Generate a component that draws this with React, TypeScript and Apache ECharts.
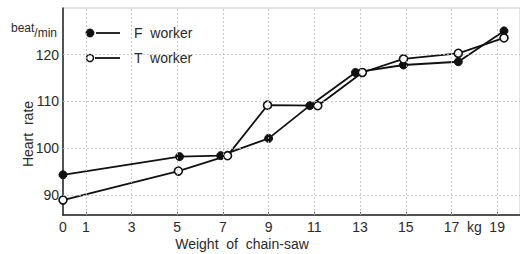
import React, { useEffect, useRef } from "react";
import * as echarts from "echarts";

const fWorkerX = [0, 5.1, 6.9, 9.0, 10.8, 12.8, 14.9, 17.3, 19.3];
const fWorkerY = [94.3, 98.2, 98.4, 102.1, 109.1, 116.2, 117.8, 118.5, 125.1];
const tWorkerX = [0, 5.05, 7.2, 8.95, 11.15, 13.1, 14.9, 17.3, 19.3];
const tWorkerY = [88.9, 95.1, 98.4, 109.2, 109.1, 116.2, 119.1, 120.3, 123.6];
const xTickLabels = [0, 1, 3, 5, 7, 9, 11, 13, 15, 17, 18, 19];
const xGridValues = [1, 3, 5, 7, 9, 11, 13, 15, 17, 19];
const yTickLabels = [90, 100, 110, 120];
const seriesNames = ["F worker", "T worker"];

const FONT = "'Liberation Sans', 'DejaVu Sans', sans-serif";
const TXT = "#2a2a2a";

export default function App() {
  const ref = useRef<HTMLDivElement>(null);
  useEffect(() => {
    if (!ref.current) return;
    const chart = echarts.init(ref.current, null, { renderer: "svg" });
    const zip = (xs: number[], ys: number[]) => xs.map((x, i) => [x, ys[i]]);
    const gridLine = { color: "#bdbdbd", width: 0.8, type: [2, 2] as any };
    chart.setOption({
      animation: false,
      backgroundColor: "#fff",
      grid: {
        left: 63,
        top: 8,
        right: 0,
        bottom: 39,
        show: true,
        borderColor: "#c8c8c8",
        borderWidth: 1,
        backgroundColor: "transparent",
      },
      xAxis: {
        type: "value",
        min: 0,
        max: 20,
        axisLine: { show: true, onZero: false, lineStyle: { color: "#222", width: 1.5 } },
        axisTick: { show: true, inside: true, length: 3, customValues: xGridValues, lineStyle: { color: "#444" } },
        splitLine: { show: false },
        axisLabel: {
          customValues: xTickLabels,
          formatter: (v: number) => (v === 18 ? "kg" : String(v)),
          fontSize: 14,
          color: TXT,
          fontFamily: FONT,
          margin: 5,
        },
      },
      yAxis: {
        type: "value",
        min: 85.7,
        max: 130,
        axisLine: { show: true, lineStyle: { color: "#222", width: 1.5 } },
        axisTick: { show: false },
        splitLine: { show: false },
        axisLabel: {
          customValues: yTickLabels,
          fontSize: 14,
          color: TXT,
          fontFamily: FONT,
          margin: 4,
        },
      },
      series: [
        {
          type: "line",
          name: "grid",
          data: [],
          silent: true,
          markLine: {
            silent: true,
            symbol: "none",
            label: { show: false },
            lineStyle: gridLine,
            data: [
              ...xGridValues.map((v) => ({ xAxis: v })),
              ...yTickLabels.map((v) => ({ yAxis: v })),
            ],
          },
        },
        {
          type: "line",
          name: seriesNames[0],
          data: zip(fWorkerX, fWorkerY),
          symbol: "circle",
          symbolSize: 8,
          itemStyle: { color: "#111", borderColor: "#111", borderWidth: 1 },
          lineStyle: { color: "#111", width: 1.8 },
          z: 3,
        },
        {
          type: "line",
          name: seriesNames[1],
          data: zip(tWorkerX, tWorkerY),
          symbol: "circle",
          symbolSize: 8,
          itemStyle: { color: "#fff", borderColor: "#111", borderWidth: 1.6 },
          lineStyle: { color: "#111", width: 1.8 },
          z: 4,
        },
      ],
      graphic: [
        {
          type: "text",
          left: 11,
          top: 22,
          style: {
            text: "{a|beat}{b|/min}",
            rich: {
              a: { fontSize: 12, fontFamily: FONT, fill: TXT, verticalAlign: "top", padding: [0, 0, 5, 0] },
              b: { fontSize: 12, fontFamily: FONT, fill: TXT, padding: [5, 0, 0, 0] },
            },
          },
        },
        {
          type: "text",
          x: 28,
          y: 134,
          rotation: Math.PI / 2,
          style: {
            text: "Heart  rate",
            fontSize: 14,
            fontFamily: FONT,
            fill: TXT,
            align: "center",
            verticalAlign: "middle",
          },
        },
        {
          type: "text",
          x: 242,
          y: 244,
          style: {
            text: "Weight  of  chain-saw",
            fontSize: 14,
            fontFamily: FONT,
            fill: TXT,
            align: "center",
            verticalAlign: "middle",
          },
        },
        { type: "circle", shape: { cx: 90, cy: 33, r: 4 }, style: { fill: "#111", stroke: "#111" } },
        { type: "line", shape: { x1: 96, y1: 33, x2: 120, y2: 33 }, style: { stroke: "#111", lineWidth: 1.8 } },
        {
          type: "text",
          x: 134,
          y: 33,
          style: { text: "F  worker", fontSize: 14, fontFamily: FONT, fill: TXT, verticalAlign: "middle" },
        },
        { type: "circle", shape: { cx: 90, cy: 58, r: 3.5 }, style: { fill: "#fff", stroke: "#111", lineWidth: 1.5 } },
        { type: "line", shape: { x1: 95, y1: 58, x2: 120, y2: 58 }, style: { stroke: "#111", lineWidth: 1.8 } },
        {
          type: "text",
          x: 134,
          y: 58,
          style: { text: "T  worker", fontSize: 14, fontFamily: FONT, fill: TXT, verticalAlign: "middle" },
        },
      ],
    });
    return () => chart.dispose();
  }, []);
  return <div ref={ref} style={{ width: 520, height: 254, position: "absolute", left: 0, top: 0 }} />;
}
